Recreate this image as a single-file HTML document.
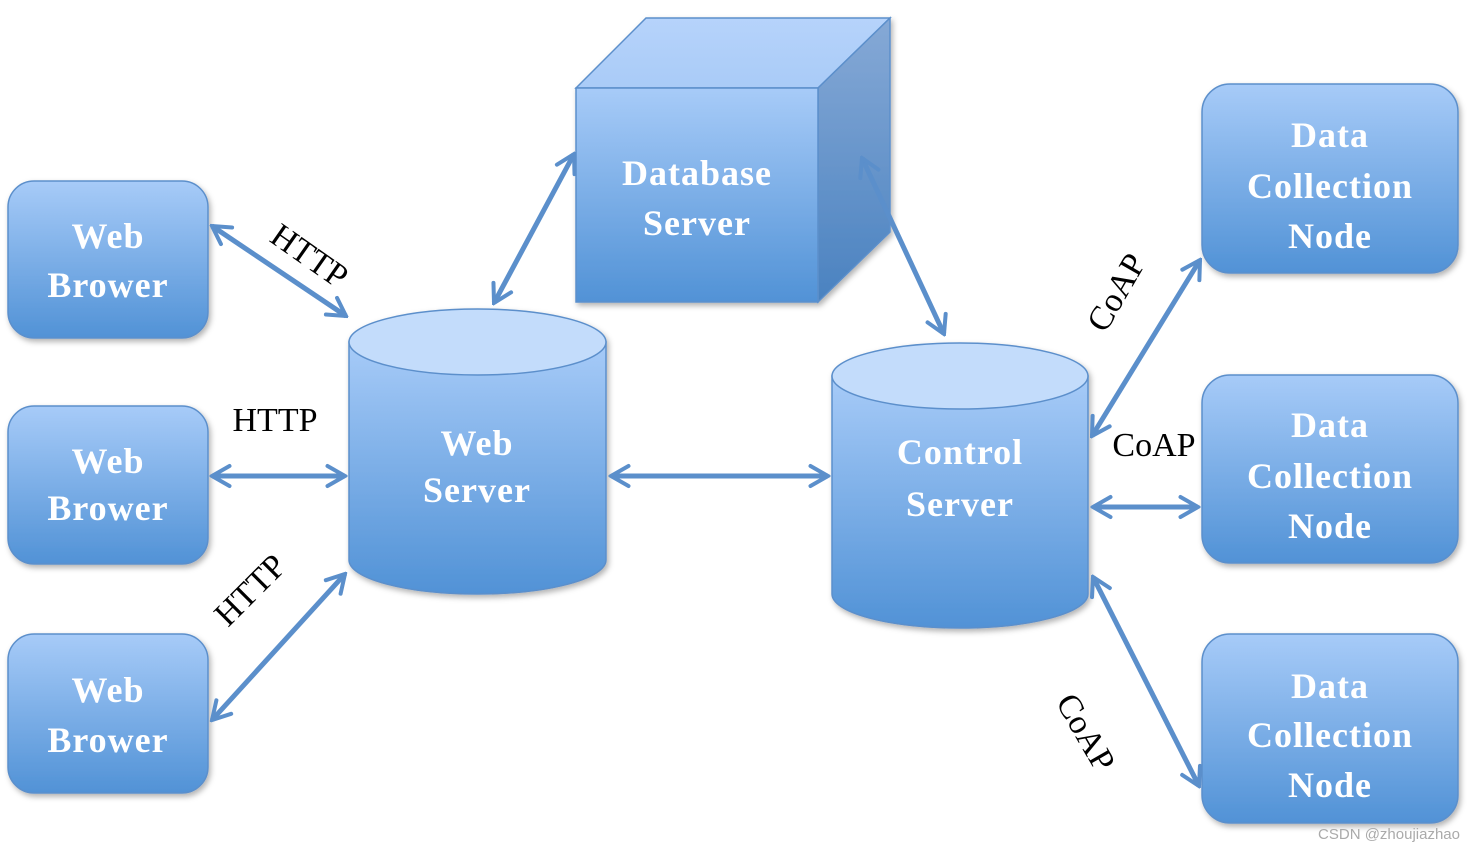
<!DOCTYPE html>
<html><head><meta charset="utf-8"><style>
html,body{margin:0;padding:0;background:#fff;}
svg{display:block}
.t{font-family:"Liberation Serif",serif;font-size:36px;fill:#fff;text-anchor:middle;font-weight:bold;letter-spacing:1px}
.l{font-family:"Liberation Serif",serif;font-size:34px;fill:#000;text-anchor:middle}
</style></head><body>
<svg width="1476" height="853" viewBox="0 0 1476 853" xmlns="http://www.w3.org/2000/svg">
<defs>
<linearGradient id="g" x1="0" y1="0" x2="0" y2="1"><stop offset="0" stop-color="#a7cbf8"/><stop offset="1" stop-color="#5192d6"/></linearGradient>
<linearGradient id="gs" x1="0" y1="0" x2="0" y2="1"><stop offset="0" stop-color="#86a9d6"/><stop offset="1" stop-color="#4a82c0"/></linearGradient>
<linearGradient id="gt" x1="0" y1="0" x2="0" y2="1"><stop offset="0" stop-color="#b6d3fb"/><stop offset="1" stop-color="#a9cbf7"/></linearGradient>
<filter id="sh" x="-10%" y="-10%" width="125%" height="125%"><feDropShadow dx="2" dy="3" stdDeviation="3" flood-color="#000" flood-opacity="0.3"/></filter>
<marker id="a" viewBox="0 0 20 20" refX="18" refY="10" markerWidth="5" markerHeight="5" orient="auto-start-reverse" markerUnits="strokeWidth"><polyline points="4,2 18,10 4,18" fill="none" stroke="#5b8fcb" stroke-width="3.2" stroke-linecap="round"/></marker>
</defs>
<g filter="url(#sh)" stroke="#5b8fcb" stroke-width="1.5">
<rect x="8" y="181" width="200" height="157" rx="26" fill="url(#g)"/>
<rect x="8" y="406" width="200" height="158" rx="26" fill="url(#g)"/>
<rect x="8" y="634" width="200" height="159" rx="26" fill="url(#g)"/>
<rect x="1202" y="84" width="256" height="189" rx="28" fill="url(#g)"/>
<rect x="1202" y="375" width="256" height="188" rx="28" fill="url(#g)"/>
<rect x="1202" y="634" width="256" height="189" rx="28" fill="url(#g)"/>
<polygon points="576,88 646,18 890,18 818,88" fill="url(#gt)"/>
<polygon points="818,88 890,18 890,232 818,302" fill="url(#gs)"/>
<rect x="576" y="88" width="242" height="214" fill="url(#g)"/>
<path d="M349,342 L349,560 A128.5,34 0 0 0 606,560 L606,342 Z" fill="url(#g)"/>
<ellipse cx="477.5" cy="342" rx="128.5" ry="33" fill="#c3dcfb"/>
<path d="M832,376 L832,594 A128,34 0 0 0 1088,594 L1088,376 Z" fill="url(#g)"/>
<ellipse cx="960" cy="376" rx="128" ry="33" fill="#c3dcfb"/>
</g>
<g stroke="#5b8fcb" stroke-width="5" fill="none" marker-start="url(#a)" marker-end="url(#a)">
<line x1="212" y1="226" x2="346" y2="316"/>
<line x1="212" y1="476" x2="345" y2="476"/>
<line x1="212" y1="720" x2="345" y2="574"/>
<line x1="494" y1="303" x2="574" y2="154"/>
<line x1="611" y1="476" x2="828" y2="476"/>
<line x1="862" y1="158" x2="944" y2="334"/>
<line x1="1092" y1="436" x2="1200" y2="260"/>
<line x1="1093" y1="507" x2="1198" y2="507"/>
<line x1="1093" y1="577" x2="1199" y2="786"/>
</g>
<text class="t" x="108" y="248">Web</text><text class="t" x="108" y="297">Brower</text>
<text class="t" x="108" y="473">Web</text><text class="t" x="108" y="520">Brower</text>
<text class="t" x="108" y="702">Web</text><text class="t" x="108" y="752">Brower</text>
<text class="t" x="697" y="185">Database</text><text class="t" x="697" y="235">Server</text>
<text class="t" x="477" y="455">Web</text><text class="t" x="477" y="502">Server</text>
<text class="t" x="960" y="464">Control</text><text class="t" x="960" y="516">Server</text>
<text class="t" x="1330" y="147">Data</text><text class="t" x="1330" y="198">Collection</text><text class="t" x="1330" y="248">Node</text>
<text class="t" x="1330" y="437">Data</text><text class="t" x="1330" y="488">Collection</text><text class="t" x="1330" y="538">Node</text>
<text class="t" x="1330" y="698">Data</text><text class="t" x="1330" y="747">Collection</text><text class="t" x="1330" y="797">Node</text>
<text class="l" transform="translate(303,265) rotate(35)">HTTP</text>
<text class="l" x="275" y="431">HTTP</text>
<text class="l" transform="translate(258,598) rotate(-45)">HTTP</text>
<text class="l" transform="translate(1126,298) rotate(-60)">CoAP</text>
<text class="l" x="1154" y="456">CoAP</text>
<text class="l" transform="translate(1076,738) rotate(60)">CoAP</text>
<text x="1460" y="839" font-family="Liberation Sans,sans-serif" font-size="15" fill="#aaa" text-anchor="end">CSDN @zhoujiazhao</text>
</svg>
</body></html>
